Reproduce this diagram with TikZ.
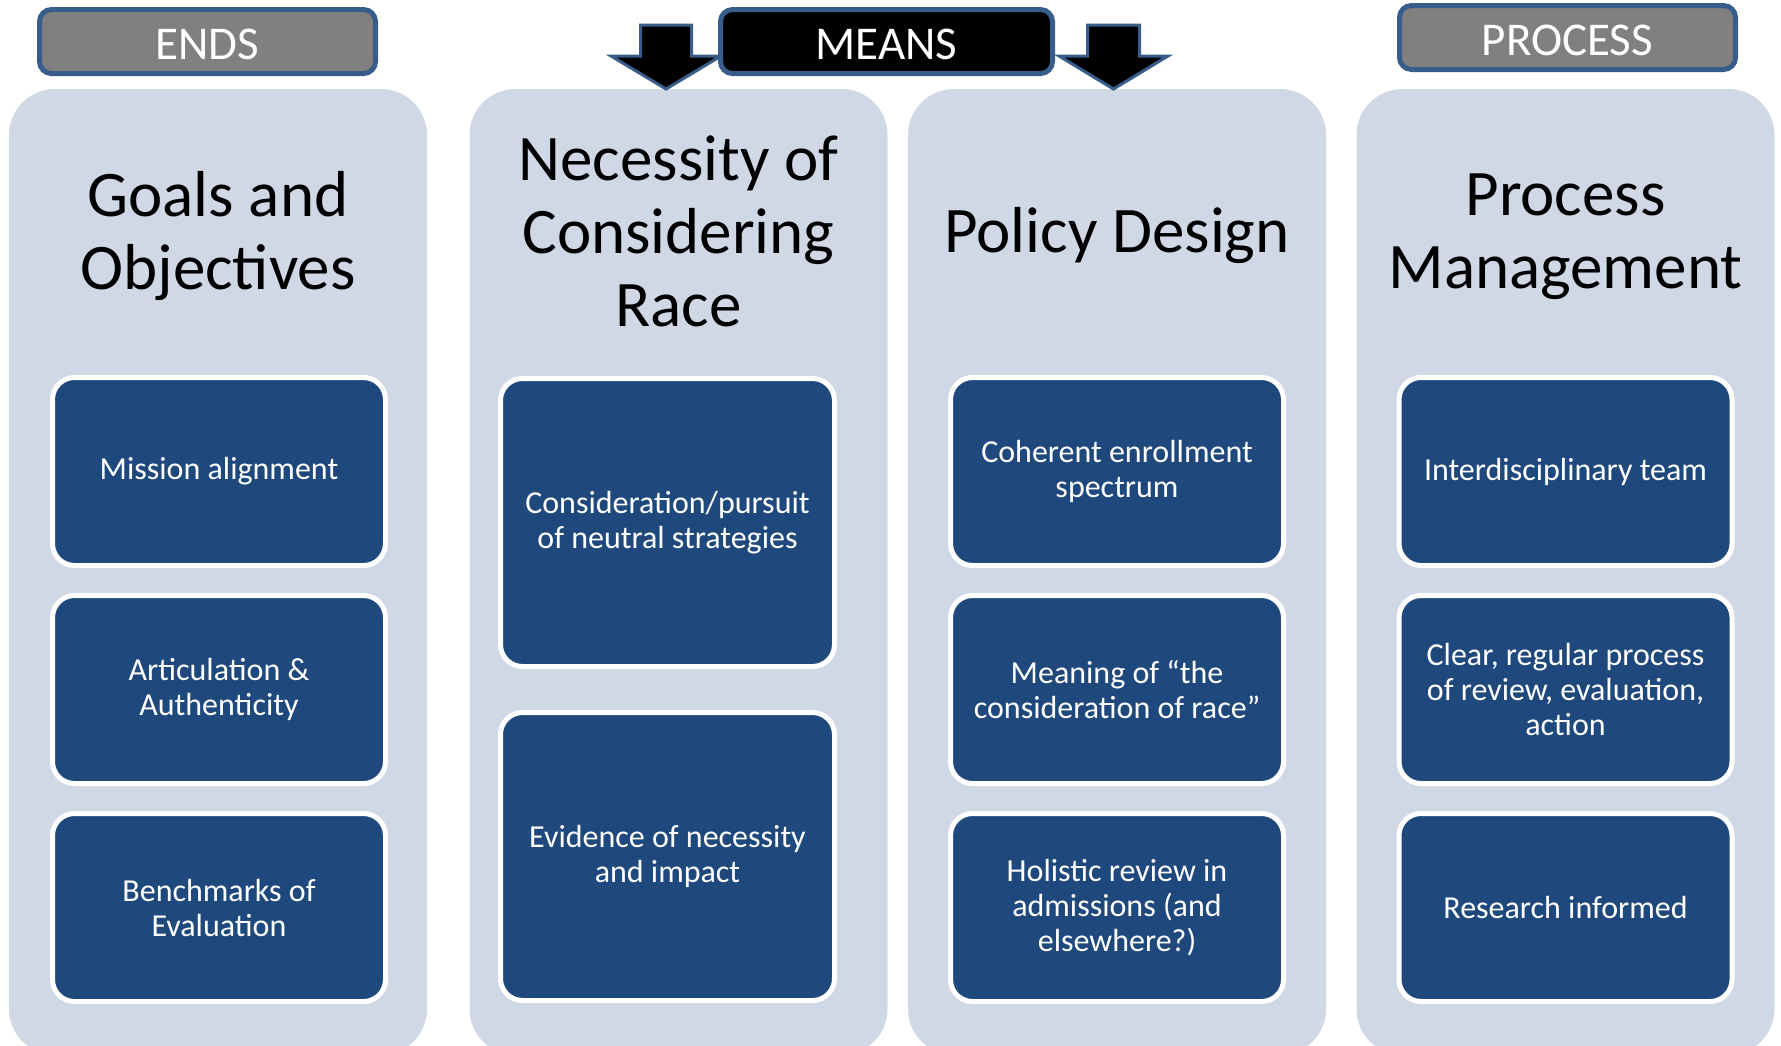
\documentclass[tikz,border=0pt]{standalone}
\usepackage{fontspec}
\setmainfont{Carlito}
\usepackage{tikz}
\usetikzlibrary{ positioning, % For easy node-relative placements
               }

\definecolor{colbg}{HTML}{D0D7E5}
\definecolor{itemblue}{HTML}{1F497D}
\definecolor{rimblue}{HTML}{385D8A}
\definecolor{tabgray}{HTML}{808080}

\tikzset{
  column/.style={fill=colbg, rounded corners=46pt, inner sep=0pt,
                 minimum width=418pt, minimum height=966pt},
  coltitle/.style={font=\fontsize{65}{73}\selectfont, align=center},
  item/.style={draw=white, line width=5pt, fill=itemblue, rounded corners=22pt,
               text=white, align=center, font=\fontsize{32}{35}\selectfont,
               minimum width=333pt, minimum height=188pt},
  tall/.style={minimum width=334pt, minimum height=288pt},
  tab/.style={draw=rimblue, line width=5pt, rounded corners=12pt, text=white,
              font=\fontsize{47}{50}\selectfont, text height=35pt, text depth=0pt,
              minimum width=336pt, minimum height=64pt},
  downarrow/.style={draw=rimblue, line width=3pt, fill=black, line join=miter},
}

\begin{document}
\begin{tikzpicture}[x=1pt, y=-1pt]
    \useasboundingbox (0,0) rectangle (1781,1045);
    \clip (0,0) rectangle (1781,1045);

    % the four columns
    \node[column] (colGoals)   at (218,572)    {};
    \node[column] (colRace)    at (678.5,572)  {};
    \node[column] (colPolicy)  at (1117,572)   {};
    \node[column] (colProcess) at (1565.5,572) {};

    % arrows on both sides of the middle tab
    \draw[downarrow] (640.5,25) -- (691.5,25) -- (691.5,56) -- (721,56)
        -- (666,89) -- (611,56) -- (640.5,56) -- cycle;
    \draw[downarrow] (1087.5,25) -- (1139.5,25) -- (1139.5,56) -- (1168,56)
        -- (1113.5,89) -- (1059,56) -- (1087.5,56) -- cycle;

    % tabs on top
    \node[tab, fill=tabgray] (ends) at (207.5,41.5) {ENDS};
    \node[tab, fill=black, minimum width=332pt] (means) at (886.5,41.5) {MEANS};
    \node[tab, fill=tabgray] (procTab) at (1567.5,37.5) {PROCESS};

    % column titles
    \node[coltitle] (tGoals)   at (218,236)    {Goals and\\Objectives};
    \node[coltitle] (tRace)    at (678.5,231)  {Necessity of\\Considering\\Race};
    \node[coltitle] (tPolicy)  at (1117,236)   {Policy Design};
    \node[coltitle] (tProcess) at (1565.5,237) {Process\\Management};

    % boxes of the first column
    \node[item] (mission) at (219,471.5) {Mission alignment};
    \node[item] (artic)   at (219,689.5) {Articulation \&\\Authenticity};
    \node[item] (bench)   at (219,907.5) {Benchmarks of\\Evaluation};

    % boxes of the second column
    \node[item, tall] (neutral)  at (667.5,522.5) {Consideration/pursuit\\of neutral strategies};
    \node[item, tall] (evidence) at (667.5,856.5) {Evidence of necessity\\and impact};

    % boxes of the third column
    \node[item] (spectrum) at (1117,471.5) {Coherent enrollment\\spectrum};
    \node[item] (meaning)  at (1117,689.5) {Meaning of “the\\consideration of race”};
    \node[item] (holistic) at (1117,907.5) {Holistic review in\\admissions (and\\elsewhere?)};

    % boxes of the fourth column
    \node[item] (team)     at (1565.5,471.5) {Interdisciplinary team};
    \node[item] (review)   at (1565.5,689.5) {Clear, regular process\\of review, evaluation,\\action};
    \node[item] (research) at (1565.5,907.5) {Research informed};
\end{tikzpicture}
\end{document}
